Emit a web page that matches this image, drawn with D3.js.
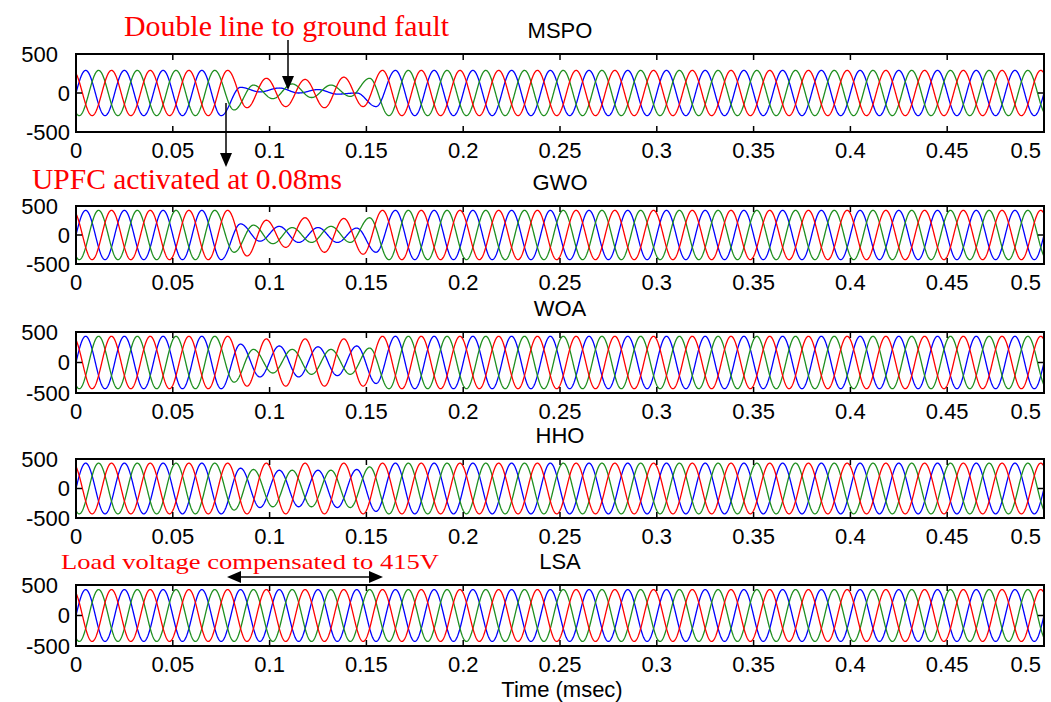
<!DOCTYPE html>
<html>
<head>
<meta charset="utf-8">
<script src="https://cdn.jsdelivr.net/npm/d3@7"></script>
<style>
  body { margin: 0; background: #fff; }
  text { font-family: "Liberation Sans", Arial, sans-serif; }
  .note { font-family: "Liberation Serif", "Times New Roman", serif; fill: #ff0000; }
</style>
</head>
<body>
<svg id="chart" width="1051" height="702"></svg>
<script>
// ---- data -------------------------------------------------------------
const methods = ["MSPO", "GWO", "WOA", "HHO", "LSA"];
const peakVoltage = [290, 425, 430, 430, 425];   // steady-state phase peak (V)
const frequencyHz = 50;

const timeTicks = [0, 0.05, 0.1, 0.15, 0.2, 0.25, 0.3, 0.35, 0.4, 0.45, 0.5];
const timeTickLabels = ["0", "0.05", "0.1", "0.15", "0.2", "0.25", "0.3", "0.35", "0.4", "0.45", "0.5"];
const voltTicks = [500, 0, -500];
const voltTickLabels = ["500", "0", "-500"];

// Disturbed interval (s); inside it each phase follows the listed per-unit
// extrema (one value per half cycle) instead of its steady sinusoid.
const faultWindow = [0.076, 0.16];

const mspoBlue  = [0.25, 0.05, 0.22, 0.0, 0.15, -0.05, 0.0, -0.6];
const mspoRed   = [1, -0.65, 0.65, -0.6, 0.6, -0.65, 0.7, -0.6, 1];
const mspoGreen = [-0.75, 0.35, -0.25, 0.4, -0.2, 0.35, -0.15, 0.65];

const gwoBlue   = [0.45, -0.25, 0.35, -0.3, 0.3, -0.3, 0.28, -0.7];
const gwoRed    = [1, -0.85, 0.6, -0.5, 0.7, -0.7, 0.67, -0.78, 1];
const gwoGreen  = [-0.7, 0.4, -0.35, 0.3, -0.3, 0.35, -0.3, 0.7];

const woaBlue   = [0.7, -0.55, 0.63, -0.55, 0.6, -0.5, 0.63, -0.8];
const woaRed    = [1, -0.9, 0.9, -0.9, 0.9, -0.9, 0.9, -0.9, 1];
const woaGreen  = [-0.75, 0.5, -0.4, 0.5, -0.45, 0.5, -0.45, 0.55];

const hhoBlue   = [0.8, -0.75, 0.72, -0.72, 0.72, -0.75, 0.75, -0.9];
const hhoRed    = [1, -1, 1, -1, 1, -1, 1, -1, 1];
const hhoGreen  = [-0.85, 0.75, -0.72, 0.72, -0.72, 0.72, -0.75, 0.85];

const faultExtrema = [
  { blue: mspoBlue, red: mspoRed, green: mspoGreen },
  { blue: gwoBlue,  red: gwoRed,  green: gwoGreen },
  { blue: woaBlue,  red: woaRed,  green: woaGreen },
  { blue: hhoBlue,  red: hhoRed,  green: hhoGreen },
  null
];

// ---- layout -----------------------------------------------------------
const svg = d3.select("#chart");
const left = 76, right = 1044;
const panelBoxes = [[54, 132], [206, 264], [332, 393], [459, 518], [585, 646]];
const phaseDefs = [
  { key: "blue",  color: "#0000ff", shift: 0 },
  { key: "green", color: "#1f8f1f", shift: -2 * Math.PI / 3 },
  { key: "red",   color: "#ff0000", shift: 2 * Math.PI / 3 }
];
const tickFont = 22;

const x = d3.scaleLinear().domain([0, 0.5]).range([left, right]);
const omega = 2 * Math.PI * frequencyHz;
const samples = d3.range(0, 0.5 + 1e-9, 0.0002);

// Voltage of one phase: half-cosine segments joining successive extrema.
function phaseVoltage(t, amp, shift, extrema) {
  const k = Math.floor((omega * t + shift - Math.PI / 2) / Math.PI);
  const tk = (Math.PI / 2 + k * Math.PI - shift) / omega;
  const half = 1 / (2 * frequencyHz);
  const k0 = Math.ceil((omega * faultWindow[0] + shift - Math.PI / 2) / Math.PI);
  const ext = j => {
    const tj = (Math.PI / 2 + j * Math.PI - shift) / omega;
    if (extrema && tj >= faultWindow[0] && tj < faultWindow[1]) {
      const v = extrema[j - k0];
      if (v !== undefined) return v * amp;
    }
    return amp * (j % 2 === 0 ? 1 : -1);
  };
  const e0 = ext(k), e1 = ext(k + 1);
  const s = (t - tk) / half;
  return e0 + (e1 - e0) * (1 - Math.cos(Math.PI * s)) / 2;
}

const defs = svg.append("defs");

methods.forEach((name, i) => {
  const [top, bottom] = panelBoxes[i];
  const y = d3.scaleLinear().domain([-500, 500]).range([bottom, top]);
  const g = svg.append("g");

  defs.append("clipPath").attr("id", "clip" + i)
    .append("rect").attr("x", left).attr("y", top)
    .attr("width", right - left).attr("height", bottom - top);

  // waveforms
  const lines = g.append("g").attr("clip-path", `url(#clip${i})`);
  phaseDefs.forEach(p => {
    const ext = faultExtrema[i] ? faultExtrema[i][p.key] : null;
    const line = d3.line()
      .x(t => x(t))
      .y(t => y(phaseVoltage(t, peakVoltage[i], p.shift, ext)));
    lines.append("path")
      .datum(samples)
      .attr("d", line)
      .attr("fill", "none")
      .attr("stroke", p.color)
      .attr("stroke-width", 1.3)
      .attr("stroke-linejoin", "round");
  });

  // inward tick marks on all four sides
  const tickLen = 6;
  timeTicks.forEach(t => {
    g.append("line").attr("x1", x(t)).attr("x2", x(t))
      .attr("y1", bottom).attr("y2", bottom - tickLen)
      .attr("stroke", "#000").attr("stroke-width", 1.5);
    g.append("line").attr("x1", x(t)).attr("x2", x(t))
      .attr("y1", top).attr("y2", top + tickLen)
      .attr("stroke", "#000").attr("stroke-width", 1.5);
  });
  voltTicks.forEach(v => {
    g.append("line").attr("x1", left).attr("x2", left + tickLen)
      .attr("y1", y(v)).attr("y2", y(v))
      .attr("stroke", "#000").attr("stroke-width", 1.5);
    g.append("line").attr("x1", right).attr("x2", right - tickLen)
      .attr("y1", y(v)).attr("y2", y(v))
      .attr("stroke", "#000").attr("stroke-width", 1.5);
  });

  // frame
  g.append("rect").attr("x", left).attr("y", top)
    .attr("width", right - left).attr("height", bottom - top)
    .attr("fill", "none").attr("stroke", "#000").attr("stroke-width", 2);

  // tick labels
  timeTicks.forEach((t, j) => {
    const last = j === timeTicks.length - 1;
    g.append("text")
      .attr("x", last ? x(t) - 3 : x(t))
      .attr("y", bottom + 26)
      .attr("text-anchor", last ? "end" : "middle")
      .attr("font-size", tickFont)
      .attr("fill", "#000")
      .text(timeTickLabels[j]);
  });
  voltTicks.forEach((v, j) => {
    g.append("text")
      .attr("x", v === 500 ? 58 : 70)
      .attr("y", y(v))
      .attr("dy", "0.36em")
      .attr("text-anchor", "end")
      .attr("font-size", tickFont)
      .attr("fill", "#000")
      .text(voltTickLabels[j]);
  });

  // panel title
  g.append("text")
    .attr("x", (left + right) / 2)
    .attr("y", top - 16)
    .attr("text-anchor", "middle")
    .attr("font-size", 22)
    .attr("fill", "#000")
    .text(name);
});

// axis title
svg.append("text")
  .attr("x", 562).attr("y", 697)
  .attr("text-anchor", "middle")
  .attr("font-size", 22)
  .attr("fill", "#000")
  .text("Time (msec)");

// ---- annotations ------------------------------------------------------
function arrowHead(px, py, dir) {
  // filled triangle with its tip at (px, py); dir: "down", "left", "right"
  const L = 14, w = 6;
  let pts;
  if (dir === "down") pts = [[px, py], [px - w, py - L], [px + w, py - L]];
  if (dir === "left") pts = [[px, py], [px + L, py - w], [px + L, py + w]];
  if (dir === "right") pts = [[px, py], [px - L, py - w], [px - L, py + w]];
  svg.append("path").attr("d", d3.line()(pts) + "Z").attr("fill", "#000");
}

svg.append("text").attr("class", "note")
  .attr("x", 124).attr("y", 36)
  .attr("font-size", 30)
  .attr("textLength", 325).attr("lengthAdjust", "spacingAndGlyphs")
  .text("Double line to ground fault");
svg.append("line").attr("x1", 288).attr("x2", 288).attr("y1", 40).attr("y2", 80)
  .attr("stroke", "#000").attr("stroke-width", 1.5);
arrowHead(288, 90, "down");

svg.append("text").attr("class", "note")
  .attr("x", 32).attr("y", 189)
  .attr("font-size", 30)
  .attr("textLength", 310).attr("lengthAdjust", "spacingAndGlyphs")
  .text("UPFC activated at 0.08ms");
svg.append("line").attr("x1", 226).attr("x2", 226).attr("y1", 103).attr("y2", 158)
  .attr("stroke", "#000").attr("stroke-width", 1.5);
arrowHead(226, 167, "down");

svg.append("text").attr("class", "note")
  .attr("x", 61).attr("y", 569)
  .attr("font-size", 22)
  .attr("textLength", 378).attr("lengthAdjust", "spacingAndGlyphs")
  .text("Load voltage compensated to 415V");
svg.append("line").attr("x1", 235).attr("x2", 375).attr("y1", 577).attr("y2", 577)
  .attr("stroke", "#000").attr("stroke-width", 1.5);
arrowHead(227, 577, "left");
arrowHead(383, 577, "right");
</script>
</body>
</html>
